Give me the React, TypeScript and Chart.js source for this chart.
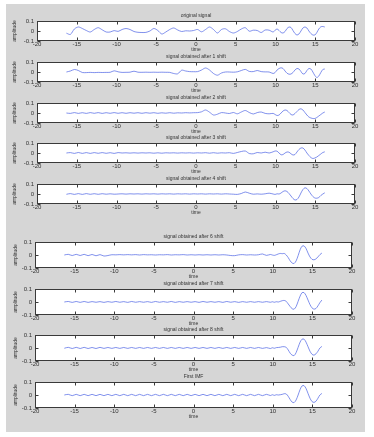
import React, { useEffect, useRef } from "react";
import { Chart, registerables } from "chart.js";

Chart.register(...registerables);

// ---------- data ----------
const TIME = [
  -16.3, -15.8, -15.3, -14.8, -14.3, -13.8, -13.3, -12.8, -12.3, -11.8,
  -11.3, -10.8, -10.3, -9.8, -9.3, -8.8, -8.3, -7.8, -7.3, -6.8,
  -6.3, -5.8, -5.3, -4.8, -4.3, -3.8, -3.3, -2.8, -2.3, -1.8,
  -1.3, -0.8, -0.3, 0.2, 0.7, 1.2, 1.7, 2.2, 2.7, 3.2,
  3.7, 4.2, 4.7, 5.2, 5.7, 6.2, 6.7, 7.2, 7.7, 8.2,
  8.7, 9.2, 9.7, 9.95, 10.2, 10.45, 10.7, 10.95, 11.2, 11.45,
  11.7, 11.95, 12.2, 12.45, 12.7, 12.95, 13.2, 13.45, 13.7, 13.95,
  14.2, 14.45, 14.7, 14.95, 15.2, 15.45, 15.7, 15.95, 16.2,
];

const ORIGINAL = [
  -0.022, -0.034, 0.02, 0.04, 0.025, 0.005, -0.01, 0.015, 0.033, 0.012,
  -0.01, -0.01, 0.004, -0.004, 0.015, 0.025, 0.015, -0.005, -0.013, -0.015,
  -0.014, 0.0, 0.025, 0.005, -0.03, -0.01, 0.015, 0.03, 0.01, -0.005,
  0.002, 0.0, 0.005, 0.015, -0.008, 0.015, 0.04, 0.015, -0.02, 0.015,
  0.022, -0.005, -0.02, -0.005, 0.02, 0.033, -0.002, 0.008, 0.005, -0.015,
  0.01, 0.008, -0.01, 0.008, 0.02, 0.005, -0.015, -0.02, -0.005, 0.025,
  0.04, 0.035, 0.005, -0.025, -0.04, -0.03, 0.0, 0.03, 0.04, 0.03,
  0.0, -0.025, -0.04, -0.04, -0.015, 0.02, 0.042, 0.045, 0.04,
];

const SHIFT1 = [
  0.0, 0.01, 0.025, 0.015, -0.005, -0.006, -0.004, -0.006, -0.004, -0.005,
  -0.004, -0.003, 0.012, 0.002, -0.004, -0.003, -0.002, 0.008, -0.002, -0.003,
  -0.002, -0.003, -0.002, -0.003, -0.002, -0.003, -0.004, -0.015, -0.018, 0.018,
  0.01, 0.004, 0.003, 0.004, 0.02, 0.04, 0.02, -0.015, -0.032, -0.01,
  0.0, 0.0, -0.002, 0.002, 0.015, 0.026, 0.006, 0.004, 0.015, 0.004,
  0.001, 0.0, -0.015, -0.005, 0.02, 0.035, 0.042, 0.035, 0.01, -0.012,
  -0.022, -0.02, -0.005, 0.02, 0.035, 0.03, 0.005, -0.02, -0.015, 0.015,
  0.035, 0.03, 0.0, -0.035, -0.055, -0.04, -0.005, 0.025, 0.03,
];

const SHIFT2 = [
  0.0, -0.004, 0.004, -0.004, 0.003, -0.004, 0.004, -0.003, 0.004, -0.004,
  0.003, -0.003, 0.004, -0.003, 0.003, -0.003, 0.003, -0.002, 0.003, -0.003,
  0.003, -0.002, 0.003, -0.003, 0.002, -0.002, 0.003, -0.002, 0.002, 0.0,
  0.003, 0.001, 0.003, 0.004, 0.012, 0.03, 0.008, -0.02, -0.012, 0.004,
  0.0, -0.005, 0.005, -0.008, 0.01, 0.025, 0.005, -0.01, 0.004, 0.01,
  -0.004, -0.008, -0.004, -0.015, -0.025, -0.02, 0.0, 0.02, 0.03, 0.025,
  0.005, -0.015, -0.02, -0.005, 0.015, 0.035, 0.042, 0.03, 0.005, -0.02,
  -0.04, -0.05, -0.055, -0.055, -0.045, -0.03, -0.015, 0.0, 0.01,
];

const SHIFT3 = [
  0.0, 0.004, -0.004, 0.005, -0.004, 0.004, -0.004, 0.004, -0.003, 0.004,
  -0.003, 0.003, -0.004, 0.004, 0.0, 0.002, -0.001, 0.002, -0.001, 0.002,
  0.0, 0.002, -0.002, 0.002, -0.002, 0.002, 0.0, 0.002, -0.001, 0.002,
  0.0, 0.002, -0.001, 0.002, 0.0, 0.003, -0.002, 0.003, -0.002, 0.002,
  0.0, 0.003, -0.004, 0.005, 0.015, 0.02, -0.005, -0.008, 0.005, 0.0,
  0.008, 0.0, 0.012, 0.02, 0.018, 0.0, -0.018, -0.015, 0.0, 0.01,
  0.008, -0.008, -0.02, -0.015, 0.01, 0.035, 0.05, 0.05, 0.03, 0.0,
  -0.025, -0.045, -0.055, -0.05, -0.04, -0.025, -0.01, 0.005, 0.012,
];

const SHIFT4 = [
  -0.003, 0.004, -0.004, 0.004, -0.004, 0.004, -0.003, 0.003, -0.003, 0.003,
  -0.002, 0.002, -0.002, 0.0, 0.002, -0.001, 0.002, 0.0, 0.002, -0.001,
  0.002, 0.0, 0.002, -0.001, 0.002, 0.0, 0.002, -0.001, 0.002, 0.0,
  0.002, -0.001, 0.002, 0.0, 0.002, -0.001, 0.002, 0.0, 0.002, -0.001,
  0.002, 0.0, -0.002, -0.004, 0.005, 0.02, 0.008, -0.002, 0.001, -0.002,
  0.002, 0.008, 0.0, -0.004, 0.002, 0.0, 0.01, 0.025, 0.032, 0.025,
  0.005, -0.02, -0.045, -0.06, -0.055, -0.03, 0.01, 0.045, 0.062, 0.055,
  0.03, 0.0, -0.025, -0.04, -0.042, -0.035, -0.015, 0.0, 0.012,
];

const SHIFT6 = [
  0.0, 0.005, -0.004, 0.005, -0.004, 0.005, -0.005, 0.004, -0.006, 0.003,
  -0.008, -0.004, 0.002, 0.001, 0.003, 0.001, 0.003, 0.001, 0.003, 0.0,
  0.003, 0.001, 0.002, 0.0, 0.002, 0.001, 0.003, 0.0, 0.002, 0.001,
  0.003, 0.0, 0.002, 0.0, 0.002, 0.0, 0.002, 0.0, 0.002, 0.0,
  0.002, 0.0, -0.004, -0.005, 0.001, 0.003, 0.0, 0.002, 0.0, 0.002,
  0.008, -0.003, 0.004, 0.0, -0.003, 0.002, 0.008, 0.012, 0.01, 0.012,
  0.0, -0.02, -0.045, -0.062, -0.065, -0.045, -0.005, 0.04, 0.068, 0.07,
  0.05, 0.015, -0.015, -0.033, -0.037, -0.03, -0.015, 0.003, 0.015,
];

const SHIFT7 = [
  0.0, 0.004, -0.003, 0.004, -0.003, 0.004, -0.003, 0.003, -0.002, 0.003,
  -0.003, 0.003, -0.002, 0.004, -0.002, 0.003, -0.003, 0.004, -0.002, 0.003,
  -0.002, 0.003, -0.003, 0.004, -0.002, 0.003, -0.002, 0.004, -0.003, 0.003,
  -0.002, 0.003, -0.002, 0.003, -0.003, 0.004, -0.002, 0.003, -0.002, 0.003,
  -0.003, 0.004, -0.002, 0.003, -0.003, 0.003, -0.002, 0.003, -0.002, 0.003,
  -0.002, 0.003, -0.002, 0.002, -0.002, 0.002, 0.0, 0.005, 0.01, 0.012,
  0.005, -0.015, -0.035, -0.052, -0.055, -0.035, 0.005, 0.045, 0.072, 0.072,
  0.05, 0.015, -0.02, -0.045, -0.055, -0.05, -0.03, -0.005, 0.015,
];

const SHIFT8 = [
  -0.002, 0.005, -0.004, 0.005, -0.004, 0.005, -0.004, 0.004, -0.004, 0.005,
  -0.003, 0.004, -0.003, 0.004, -0.003, 0.004, -0.003, 0.004, -0.003, 0.004,
  -0.003, 0.004, -0.003, 0.004, -0.003, 0.004, -0.003, 0.004, -0.003, 0.004,
  -0.003, 0.004, -0.003, 0.004, -0.003, 0.004, -0.003, 0.004, -0.003, 0.004,
  -0.003, 0.004, -0.003, 0.004, -0.003, 0.004, -0.003, 0.004, -0.003, 0.004,
  -0.003, 0.003, -0.004, 0.002, -0.002, 0.003, 0.004, 0.006, 0.01, 0.01,
  0.005, -0.015, -0.04, -0.055, -0.058, -0.035, 0.005, 0.045, 0.068, 0.068,
  0.045, 0.01, -0.025, -0.048, -0.055, -0.045, -0.025, 0.0, 0.012,
];

const FIRST_IMF = [
  0.0, 0.005, -0.005, 0.005, -0.005, 0.005, -0.005, 0.005, -0.005, 0.005,
  -0.005, 0.005, -0.005, 0.005, -0.005, 0.005, -0.005, 0.005, -0.005, 0.005,
  -0.005, 0.005, -0.005, 0.005, -0.005, 0.005, -0.005, 0.005, -0.005, 0.005,
  -0.005, 0.005, -0.005, 0.005, -0.005, 0.005, -0.005, 0.005, -0.005, 0.005,
  -0.005, 0.005, -0.005, 0.005, -0.005, 0.005, -0.005, 0.005, -0.005, 0.005,
  -0.005, 0.005, -0.004, 0.002, -0.003, 0.002, 0.0, 0.002, 0.005, 0.01,
  0.008, -0.01, -0.035, -0.055, -0.058, -0.038, 0.0, 0.042, 0.07, 0.072,
  0.05, 0.012, -0.025, -0.05, -0.057, -0.048, -0.025, 0.0, 0.012,
];

const X_TICKS = [-20, -15, -10, -5, 0, 5, 10, 15, 20];
const Y_TICKS = [-0.1, 0, 0.1];
const X_LABEL = "time";
const Y_LABEL = "amplitude";

const TITLES = [
  "original signal",
  "signal obtained after 1 shift",
  "signal obtained after 2 shift",
  "signal obtained after 3 shift",
  "signal obtained after 4 shift",
  "signal obtained after 6 shift",
  "signal obtained after 7 shift",
  "signal obtained after 8 shift",
  "First IMF",
];
const SERIES = [ORIGINAL, SHIFT1, SHIFT2, SHIFT3, SHIFT4, SHIFT6, SHIFT7, SHIFT8, FIRST_IMF];

// ---------- layout (page pixels) ----------
const FIG_LEFT = 6;
const FIG_RIGHT = 365;
const FIG_TOP = 4;
const FIG_BOTTOM = 432;
const TITLE_H = 9;
const XAXIS_H = 14;

type Box = { left: number; right: number; top: number; h: number; ylabPad: number };
const BOXES: Box[] = [
  { left: 37, right: 355, top: 21, h: 20, ylabPad: 5.5 },
  { left: 37, right: 355, top: 62, h: 20, ylabPad: 5.5 },
  { left: 37, right: 355, top: 103, h: 20, ylabPad: 5.5 },
  { left: 37, right: 355, top: 143, h: 20, ylabPad: 5.5 },
  { left: 37, right: 355, top: 184, h: 20, ylabPad: 5.5 },
  { left: 35, right: 352, top: 242, h: 26, ylabPad: 6.5 },
  { left: 35, right: 352, top: 289, h: 26, ylabPad: 6.5 },
  { left: 35, right: 352, top: 335, h: 26, ylabPad: 6.5 },
  { left: 35, right: 352, top: 382, h: 26, ylabPad: 6.5 },
];

const FONT = "'Liberation Sans', Arial, Helvetica, sans-serif";
const TEXT_COLOR = "#333333";
const LINE_COLOR = "#4a62e4";

const boxPlugin = {
  id: "matlabBox",
  beforeDraw(chart: any) {
    const { ctx, chartArea: a } = chart;
    ctx.save();
    ctx.fillStyle = "#ffffff";
    ctx.fillRect(a.left, a.top, a.right - a.left, a.bottom - a.top);
    ctx.restore();
  },
  afterDatasetsDraw(chart: any) {
    const { ctx, chartArea: a, scales } = chart;
    const L = Math.round(a.left) + 0.5;
    const R = Math.round(a.right) - 0.5;
    const T = Math.round(a.top) + 0.5;
    const B = Math.round(a.bottom) - 0.5;
    ctx.save();
    ctx.strokeStyle = "#3a3a3a";
    ctx.lineWidth = 1;
    ctx.beginPath();
    const tk = 3;
    X_TICKS.forEach((v) => {
      const px = Math.round(scales.x.getPixelForValue(v)) + 0.5;
      ctx.moveTo(px, B);
      ctx.lineTo(px, B - tk);
      ctx.moveTo(px, T);
      ctx.lineTo(px, T + tk);
    });
    Y_TICKS.forEach((v) => {
      const py = Math.round(scales.y.getPixelForValue(v)) + 0.5;
      ctx.moveTo(L, py);
      ctx.lineTo(L + tk, py);
      ctx.moveTo(R, py);
      ctx.lineTo(R - tk, py);
    });
    ctx.stroke();
    ctx.strokeRect(L, T, R - L, B - T);
    ctx.restore();
  },
};

function Panel({ index }: { index: number }) {
  const ref = useRef<HTMLCanvasElement | null>(null);
  const box = BOXES[index];
  const width = FIG_RIGHT - FIG_LEFT;
  const height = TITLE_H + box.h + XAXIS_H;
  const top = box.top - TITLE_H;

  useEffect(() => {
    if (!ref.current) return;
    const values = SERIES[index];
    const chart = new Chart(ref.current, {
      type: "line",
      data: {
        datasets: [
          {
            data: values.map((y, i) => ({ x: TIME[i], y })),
            borderColor: LINE_COLOR,
            borderWidth: 0.7,
            pointRadius: 0,
            tension: 0.3,
            fill: false,
          },
        ],
      },
      options: {
        animation: false,
        responsive: false,
        devicePixelRatio: 1,
        events: [],
        layout: { padding: { left: 0, right: FIG_RIGHT - box.right, top: 0, bottom: 0 } },
        plugins: {
          legend: { display: false },
          tooltip: { enabled: false },
          title: {
            display: true,
            text: TITLES[index],
            fullSize: false,
            color: TEXT_COLOR,
            font: { family: FONT, size: 5, lineHeight: "8px", weight: "normal" },
            padding: { top: 0, bottom: 1 },
          },
        },
        scales: {
          x: {
            type: "linear",
            min: -20,
            max: 20,
            grid: { display: false, drawTicks: false, tickLength: 0 },
            border: { display: false },
            afterBuildTicks: (s: any) => {
              s.ticks = X_TICKS.map((v) => ({ value: v }));
            },
            afterFit: (s: any) => {
              s.height = XAXIS_H;
            },
            ticks: {
              padding: 0,
              maxRotation: 0,
              autoSkip: false,
              color: TEXT_COLOR,
              font: { family: FONT, size: 6 },
              callback: (v: any) => String(v),
            },
            title: {
              display: true,
              text: X_LABEL,
              color: TEXT_COLOR,
              font: { family: FONT, size: 5, lineHeight: "6px" },
              padding: { top: 0, bottom: 2 },
            },
          },
          y: {
            type: "linear",
            min: -0.1,
            max: 0.1,
            grid: { display: false, drawTicks: false, tickLength: 0 },
            border: { display: false },
            afterBuildTicks: (s: any) => {
              s.ticks = Y_TICKS.map((v) => ({ value: v }));
            },
            afterFit: (s: any) => {
              s.width = box.left - FIG_LEFT;
            },
            ticks: {
              padding: 3,
              autoSkip: false,
              color: TEXT_COLOR,
              font: { family: FONT, size: 6 },
              callback: (v: any) => String(v),
            },
            title: {
              display: true,
              text: Y_LABEL,
              color: TEXT_COLOR,
              font: { family: FONT, size: 5, lineHeight: "6px" },
              padding: { top: box.ylabPad, bottom: 0 },
            },
          },
        },
      },
      plugins: [boxPlugin],
    });
    return () => chart.destroy();
  }, [index]);

  return (
    <canvas
      ref={ref}
      width={width}
      height={height}
      style={{ position: "absolute", left: FIG_LEFT, top, width, height, display: "block" }}
    />
  );
}

export default function App() {
  return (
    <div style={{ position: "absolute", left: 0, top: 0, width: 374, height: 437, background: "#ffffff", overflow: "hidden" }}>
      <div
        style={{
          position: "absolute",
          left: FIG_LEFT,
          top: FIG_TOP,
          width: FIG_RIGHT - FIG_LEFT,
          height: FIG_BOTTOM - FIG_TOP,
          background: "#d6d6d6",
        }}
      />
      {BOXES.map((_, i) => (
        <Panel key={i} index={i} />
      ))}
    </div>
  );
}
